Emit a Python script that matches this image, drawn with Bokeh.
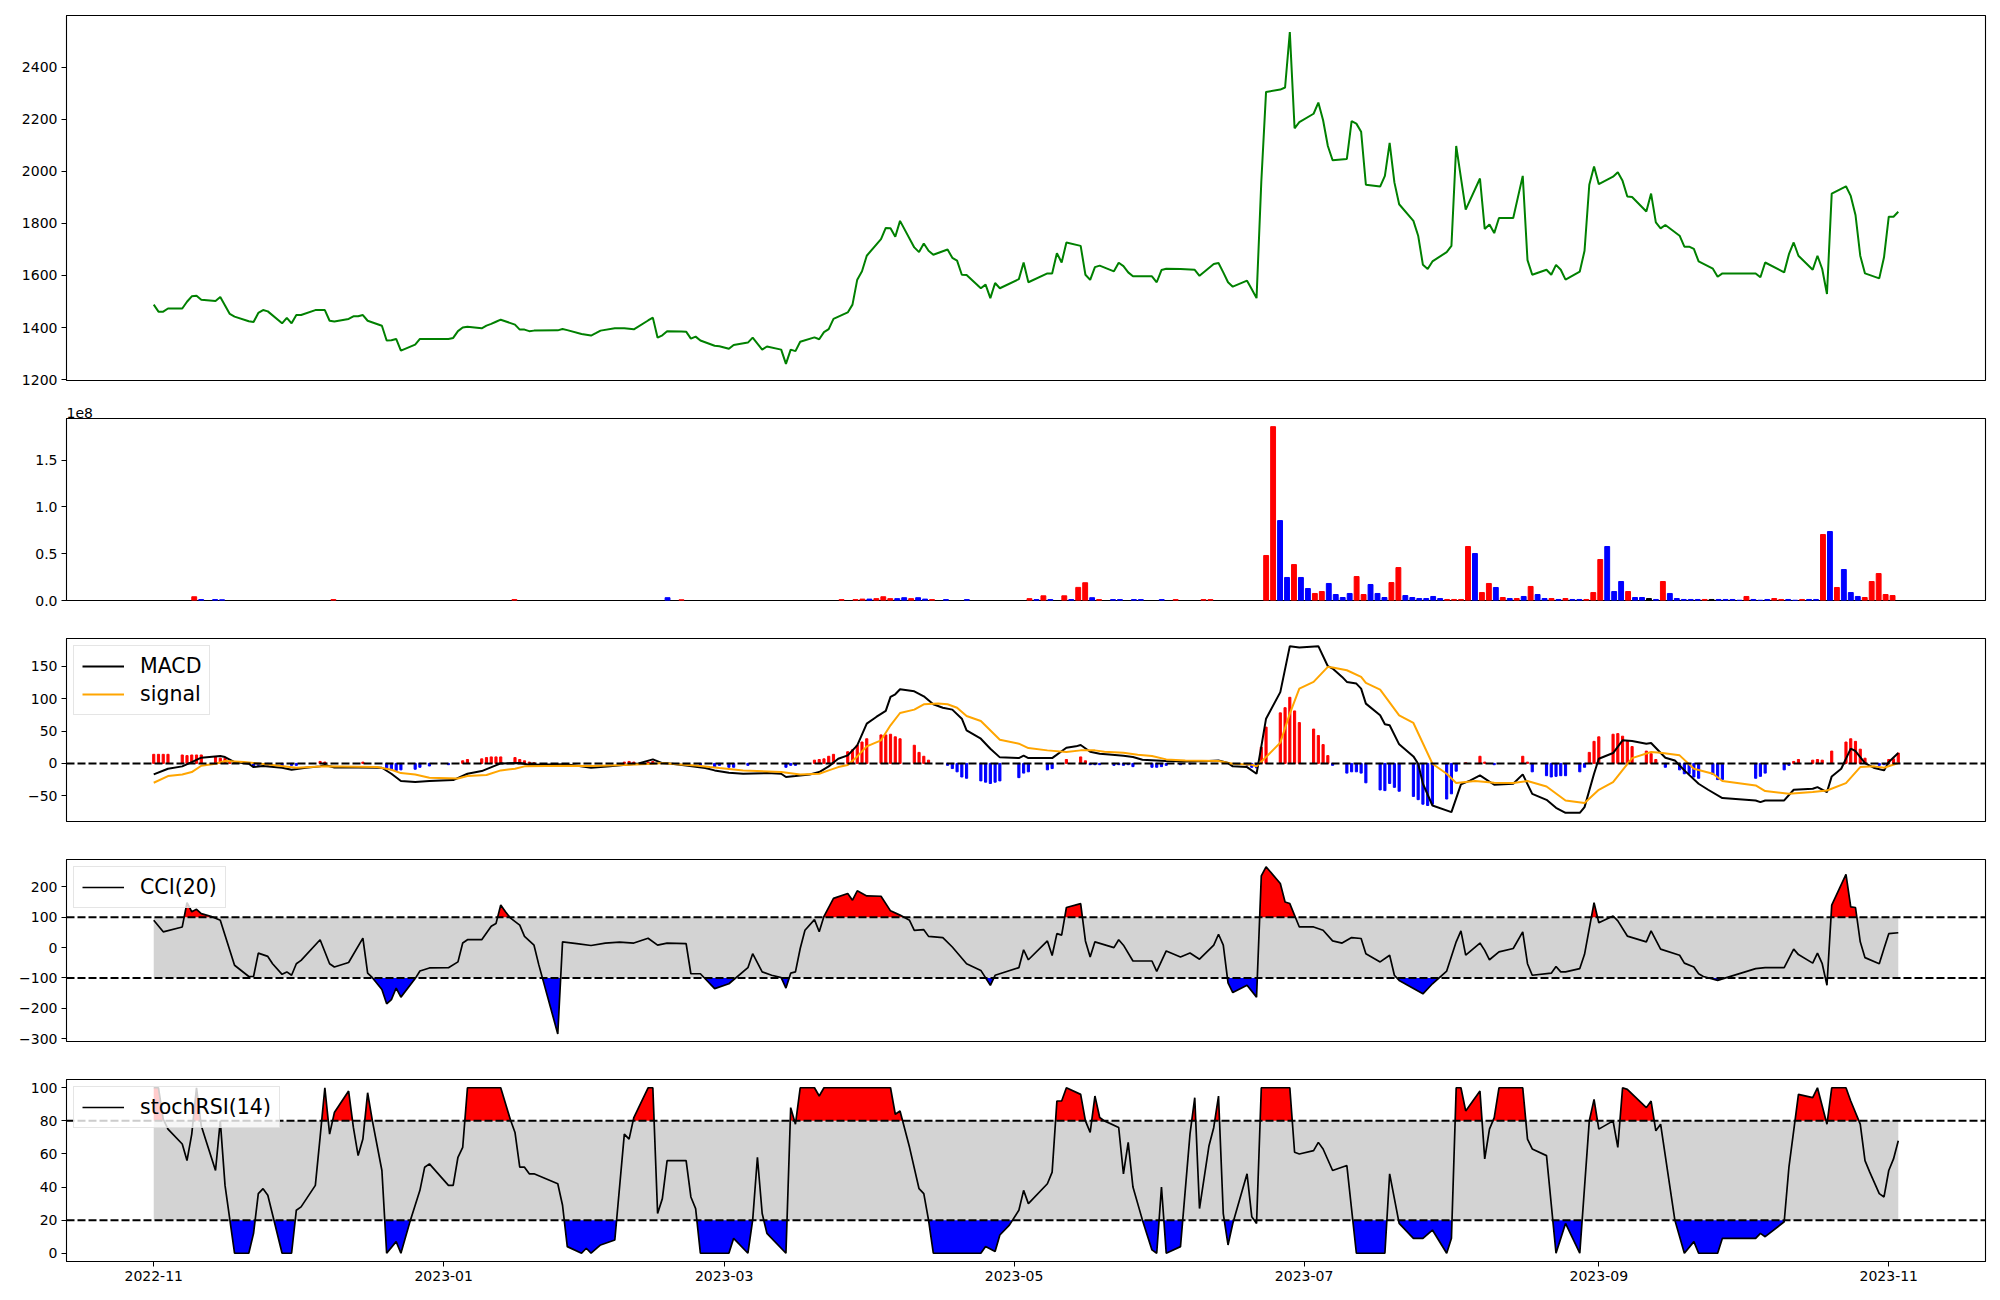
import numpy as np
import pandas as pd
from bokeh.plotting import figure
from bokeh.layouts import column
from bokeh.models import (Range1d, FixedTicker, DatetimeTickFormatter,
                          CustomJSTickFormatter, PrintfTickFormatter, Span)
from bokeh.embed import file_html
from bokeh.resources import INLINE

# ---------------- data ----------------
START = "2022-11-01"
END = "2023-11-03"
HOLIDAYS = ["2022-12-30", "2023-01-23", "2023-01-24", "2023-03-01", "2023-05-01",
            "2023-05-05", "2023-05-29", "2023-06-06", "2023-08-15", "2023-09-28",
            "2023-09-29", "2023-10-02", "2023-10-03", "2023-10-09"]

close_nov22 = [1488, 1461, 1461, 1473, 1473, 1499, 1520, 1522, 1507, 1502, 1517, 1485, 1452, 1442, 1424, 1421, 1456, 1467, 1462, 1416, 1437, 1416]
close_dec22 = [1448, 1448, 1467, 1467, 1467, 1426, 1423, 1433, 1443, 1443, 1448, 1426, 1407, 1350, 1351, 1356, 1311, 1334, 1356, 1356, 1356]
close_jan23 = [1356, 1360, 1386, 1400, 1403, 1397, 1407, 1414, 1422, 1430, 1411, 1392, 1392, 1386, 1388, 1389, 1394, 1390, 1375, 1372]
close_feb23 = [1369, 1378, 1388, 1397, 1397, 1397, 1395, 1393, 1427, 1438, 1361, 1370, 1386, 1385, 1384, 1357, 1365, 1350, 1330, 1328]
close_mar23 = [1318, 1333, 1342, 1361, 1338, 1315, 1327, 1315, 1260, 1315, 1309, 1345, 1362, 1355, 1382, 1394, 1433, 1458, 1488, 1584, 1616, 1676]
close_apr23 = [1740, 1783, 1782, 1749, 1810, 1708, 1690, 1723, 1695, 1680, 1700, 1668, 1657, 1603, 1602, 1551, 1565, 1513, 1571, 1551]
close_may23 = [1586, 1650, 1574, 1608, 1608, 1686, 1650, 1727, 1714, 1603, 1583, 1632, 1638, 1616, 1649, 1636, 1612, 1597, 1597, 1574]
close_jun23 = [1621, 1626, 1625, 1623, 1622, 1599, 1644, 1648, 1612, 1574, 1557, 1580, 1547, 1513, 1960, 2306, 2315, 2323, 2536, 2166, 2190]
close_jul23 = [2222, 2265, 2197, 2098, 2043, 2048, 2194, 2184, 2153, 1949, 1942, 1983, 2110, 1958, 1874, 1810, 1753, 1641, 1625, 1654, 1690]
close_aug23 = [1714, 2098, 1975, 1853, 1973, 1779, 1796, 1763, 1821, 1821, 1983, 1659, 1603, 1622, 1603, 1641, 1622, 1584, 1615, 1695, 1949, 2019]
close_sep23 = [1951, 1980, 1997, 1964, 1904, 1902, 1846, 1915, 1804, 1781, 1794, 1753, 1711, 1711, 1702, 1654, 1626, 1595, 1608]
close_oct23 = [1608, 1593, 1650, 1612, 1682, 1727, 1676, 1622, 1676, 1625, 1529, 1915, 1943, 1906, 1833, 1676, 1608, 1589, 1670]
close_nov23 = [1826, 1826, 1845]

# volume (millions of shares) by trading-day index, direction 1 up / -1 down / 0 flat
vol_idx = [5, 6, 8, 9, 25, 51, 73, 75, 98, 100, 101, 102, 103, 104, 105, 106, 107, 108, 109, 110,
           111, 113, 116, 125, 126, 127, 128, 130, 131, 132, 133, 134, 135, 137, 138, 140, 141,
           144, 146, 150, 151] + list(range(159, 250))
vol_m = [4, 1, 1, 0.8, 1, 1, 3, 0.8, 1, 1, 1.5, 1.5, 2, 4, 2, 2, 3, 2, 3, 1.5,
         1, 1, 1, 2, 1, 5, 1, 5, 1, 14, 19, 3, 1, 1, 1, 1, 1,
         1, 1, 1, 1,
         48.1, 185.8, 85.4, 24.6, 38.4, 24.6, 12.8, 7.5, 9.6, 18.2,
         6.4, 3.2, 7.5, 25.6, 6.4, 17.1, 7.5, 3.2, 19.2, 35.2,
         5.3, 3.2, 2.1, 2.1, 4.3, 2.1, 1.1, 1.1, 1.1, 57.7,
         50.2, 8.5, 18.2, 13.9, 3.2, 2.1, 2.1, 4.3, 15.0, 6.4,
         2.1, 2.1, 1.1, 2.1, 1.1, 1.1, 1.1, 8.5, 43.8, 57.7,
         9.6, 20.3, 9.6, 3.2, 3.2, 2.1, 1.1, 20.3, 7.5, 2.1,
         1.1, 1.1, 1.1, 1.1, 1.1, 1.1, 1.1, 1.1, 0.3, 4.3,
         1.1, 0.3, 1.1, 2.1, 1.1, 1.1, 0.3, 1.1, 1.1, 1.1,
         70.5, 73.7, 13.9, 33.1, 8.5, 4.3, 3.2, 20.3, 28.8, 6.4, 5.3]
vol_dir = [1, -1, -1, -1, 1, 1, -1, 1, 1, 1, 1, -1, 1, 1, 1, -1, -1, 1, -1, -1,
           1, -1, -1, 1, -1, 1, -1, 1, -1, 1, 1, -1, 1, -1, -1, -1, -1,
           -1, 1, 1, 1,
           1, 1, -1, -1, 1, -1, -1, 1, 1, -1,
           -1, -1, -1, 1, 1, -1, -1, -1, 1, 1,
           -1, -1, -1, -1, -1, -1, 1, 1, 1, 1,
           -1, 1, 1, -1, 1, -1, 1, -1, 1, -1,
           -1, 1, -1, 1, -1, -1, 1, 1, 1, -1,
           -1, -1, 1, -1, -1, 0, -1, 1, -1, -1,
           -1, -1, -1, 1, 0, -1, -1, -1, -1, 1,
           -1, -1, -1, 1, 1, -1, -1, 1, -1, -1,
           1, -1, 1, -1, -1, -1, 1, 1, 1, 1, 1]

# MACD / signal line vertices (days after 2022-11-01)
macd_day = [0, 3, 6, 8, 10, 14, 15, 17, 20, 21, 23, 27, 29, 32, 35, 36, 38, 43, 48, 50, 52, 55, 58, 63, 66, 69, 73, 77, 79, 87, 92, 96, 102, 105, 107, 109, 112, 116,
            118, 121, 124, 129, 132, 133, 135, 138, 140, 142, 144, 146, 148, 150, 152, 154, 155, 156, 157, 160, 162, 164, 166, 168, 170, 171, 174, 176, 178, 182, 183, 184, 189,
            192, 194, 195, 197, 199, 201, 204, 206, 208, 211, 213, 217, 222, 224, 226, 227, 230, 232, 233, 234, 237, 239, 241, 245, 247,
            248, 250, 251, 253, 254, 255, 258, 259, 260, 262, 265, 266, 267, 269, 273, 275, 277, 279, 282, 286, 288, 290, 293, 295, 297, 300, 301, 303, 304, 307, 309, 311, 314,
            315, 318, 320, 322, 325, 327, 330, 337, 338, 339, 343, 345, 349, 350, 352, 353, 355, 357, 358, 360, 362, 364, 365, 367]
macd_val = [-17, -8.2, -4.6, 2, 8.8, 11.3, 9.8, 2, -0.5, -5.7, -4, -6.7, -9.8, -6.7, -4.6, -2.6, -6.2, -6.2, -6.7, -16, -27.3, -28.9, -27.3, -25.8, -16, -11.9, 0, 0.5, -2.1, -1.5, -6.7, -4.6, 0, 6.2, 0.5, -0.5, -3.1, -7.2,
            -10.8, -14.4, -16, -15, -16, -21, -19.6, -17, -13.4, -4.6, 7.2, 12.4, 27.8, 61.3, 71.7, 81, 102.6, 106.7, 114.4, 111.3, 103.6, 91.2, 86, 83, 69, 51, 38.1, 22.7, 9.3, 8.2, 11.9, 8.2, 8.2,
            24.2, 26.3, 28.4, 18, 15, 13.9, 11.9, 9.8, 5.7, 4.6, 3.6, 3.1, 3.6, 4.6, 0.5, -4.6, -5.7, -16, 26, 69, 110, 181, 179, 181, 150,
            146.4, 133.5, 125.8, 123.2, 115.5, 92.3, 74.2, 60.3, 58.8, 29.4, 10.8, -0.5, -31.4, -65, -75.3, -32.5, -26.3, -18.6, -33, -31.4, -17, -47, -56.2, -68.6, -76.3, -76.3, -67.5, -16, 7.2, 16, 35.6, 34.5, 30.4,
            31.4, 8.8, 4.6, -10.8, -31.4, -40.7, -53.6, -57.2, -59.8, -57.2, -57.2, -40.7, -39.2, -36.6, -44.3, -20.1, -8.2, 22.7, 19.1, 0.5, -7.2, -10.8, 2, 16]
signal_day = [0, 3, 6, 8, 10, 13, 15, 19, 21, 25, 30, 36, 43, 47, 50, 52, 55, 58, 64, 66, 70, 73, 76, 78, 87, 92, 99, 105, 107, 110, 114, 117,
              119, 124, 132, 136, 140, 142, 144, 146, 148, 150, 153, 155, 157, 160, 162, 165, 167, 169, 171, 174, 178, 182, 184, 188, 192, 195, 198, 200, 204, 207, 210, 213, 217, 224, 227, 231, 232, 234, 237, 239, 241, 244, 247,
              248, 251, 254, 255, 258, 262, 265, 269, 272, 274, 278, 282, 286, 289, 293, 297, 301, 304, 307, 311, 315, 317, 321, 324, 328, 330, 337, 339, 344, 349, 352, 356, 359, 362, 364, 367]
signal_val = [-29.9, -19.6, -17, -13.4, -3.6, -0.5, 3.6, 2, 0.5, -2.6, -6.7, -4.6, -5.2, -5.7, -9.8, -15, -17, -22.2, -23.2, -19.6, -18, -10.8, -8.2, -4.6, -3.6, -4.1, -2.6, -0.5, 0.5, -1.5, -3.1, -5.7,
              -7.2, -10.8, -13.4, -17, -16, -10.8, -5.7, -2.6, 10.8, 26.3, 35.6, 58.8, 77.8, 83, 91.2, 92.3, 91.2, 86, 73.2, 65.5, 36.6, 30.4, 23.7, 20.1, 17.5, 20.1, 20.1, 18, 16.5, 13.4, 11.3, 6.2, 4.6, 3.6, -0.5, -2.1, -4.6, 9.8, 32, 76.8, 115.5, 125.8, 149,
              148, 143.8, 133.5, 124.2, 113.9, 74.2, 62.4, -0.5, -16, -30.4, -27.3, -29.9, -30.4, -27.3, -35.6, -57.2, -61.3, -40.7, -28.9, 8.2, 17.5, 16.5, 12.4, -8.2, -16, -27.3, -34, -42.8, -46.9, -44.3, -41.8, -30.4, -5.7, -4.6, -6.7, 0.5]
hist_day = [0, 1, 2, 3, 6, 7, 8, 9, 10, 13, 14, 15, 16, 17, 21, 22, 24, 27, 29, 30, 35, 36, 44,
            49, 50, 51, 52, 55, 56, 58, 62, 65, 66, 69, 70, 71, 72, 73, 76, 77, 78, 79, 80, 99, 100, 101, 104, 105,
            115, 118, 119, 121, 122, 125, 133, 134, 135, 139, 140, 141, 142, 143, 146, 147, 148, 149, 150, 153, 154, 155, 156, 157, 160, 161, 162, 163,
            167, 168, 169, 170, 171, 174, 175, 176, 177, 178, 182, 183, 184, 188, 189, 192, 195, 196, 197, 198, 199, 202, 203, 204, 205, 206, 210, 211, 212, 213, 216, 218,
            230, 231, 232, 233, 234, 237, 238, 239, 240, 241, 244, 245, 246, 247, 248,
            251, 252, 253, 254, 255, 258, 259, 260, 261, 262, 265, 266, 267, 268, 269, 272, 273, 274, 276, 279, 280, 282, 288, 289, 290, 293, 294, 295, 296, 297, 300, 301,
            302, 303, 304, 307, 308, 309, 310, 311, 314, 315, 316, 318, 321, 322, 323, 324, 325, 328, 329, 330, 337, 338, 339, 343, 344, 345, 346, 349, 350, 351, 353,
            356, 357, 358, 359, 360, 363, 364, 365, 366, 367]
hist_val = [14, 14, 14, 14, 13, 12, 13, 13, 13, 10, 8, 8, 3, 2, -4, -3, -3, -4, -3, -3, 3, 2, 2,
            -8, -10, -11, -10, -9, -6, -4, -2, 4, 6, 7, 9, 10, 10, 10, 9, 6, 4, 2, 1, 2, 3, 2, 2, 3,
            -3, -6, -3, -6, -6, -3, -6, -3, -3, 5, 6, 7, 11, 14, 18, 21, 28, 33, 38, 44, 44, 45, 41, 38, 28, 17, 11, 5,
            -3, -8, -13, -21, -23, -27, -29, -31, -29, -27, -22, -15, -13, -10, -8, 6, 10, 4, -2, -2, -2, -3, -2, -3, -2, -5, -6, -6, -5, -3, -2, -1,
            -3, -6, -7, 25, 56, 78, 86, 102, 81, 63, 53, 43, 29, 12, -3,
            -15, -13, -13, -15, -30, -41, -42, -31, -37, -43, -51, -56, -63, -65, -63, -55, -47, -12, 1, 11, 2, -2, 11, 2, -13, -19, -21, -20, -19, -19, -13, -6,
            17, 34, 41, 45, 46, 42, 34, 26, 19, 15, 6, -6, -10, -16, -16, -21, -23, -17, -25, -25, -23, -20, -15, -10, -3, 3, 6, 5, 6, 5, 19,
            33, 38, 34, 22, 8, -3, -2, 6, 7, 16]

# CCI(20) vertices
cci_day = [0, 2, 6, 7, 8, 9, 10, 12, 14, 15, 17, 20, 21, 22, 24, 25, 27, 28, 29, 30, 31, 35, 37, 38, 41, 44, 45, 46, 48, 49, 50, 51, 52, 55, 56, 58, 62, 64, 65, 66, 69, 71, 72, 73, 74, 75, 77, 78, 80, 81, 85, 86, 89, 92, 95, 98, 101, 104, 106, 108, 112, 113, 115, 118, 121, 125, 126, 128, 130, 132, 133, 134, 135, 136, 137, 139, 140, 141, 143, 146, 147, 148, 150, 153, 155, 157, 159, 160, 162, 163, 166, 168, 171, 174, 176, 177, 182, 183, 184,
           188, 189, 190, 191, 192, 195, 196, 197, 198, 202, 203, 204, 206, 210, 211, 213, 216, 218, 220, 223, 224, 225, 226, 227, 230, 232, 233, 234, 237, 238, 239, 241, 244, 246, 248, 250, 252, 254, 255, 258, 260, 261, 262, 267, 269, 272, 274, 275, 276, 279, 280, 281, 283, 286, 288, 289, 290, 294, 295, 296, 297, 300, 301, 303, 304, 307, 308, 310, 314, 315, 317, 321, 322, 324, 325, 326, 329, 337, 339, 343, 345, 346, 349, 350, 351, 352, 353, 356, 357, 358, 359, 360, 363, 364, 365, 367]
cci_val = [90, 52, 68, 148, 118, 126, 112, 103, 90, 41, -58, -95, -95, -18, -29, -53, -88, -80, -91, -53, -42, 26, -53, -64, -49, 31, -84, -99, -138, -185, -171, -133, -163, -102, -77, -67, -66, -47, 15, 26, 26, 70, 79, 140, 118, 98, 74, 37, 8, -56, -284, 19, 13, 7, 15, 18, 15, 31, 8, 15, 13, -86, -86, -135, -119, -66, -20, -80, -91, -99, -133, -84, -80, -3, 57, 92, 52, 103, 162, 178, 156, 187, 170, 169, 121, 107, 90, 57, 59, 37, 33, 2, -53, -75, -124, -91, -66, -7, -40,
           22, -26, 46, 41, 132, 145, 22, -31, 19, 0, 26, 8, -44, -44, -78, -11, -31, -18, -38, 8, 44, 8, -116, -148, -124, -163, 236, 266, 211, 150, 145, 68, 68, 57, 22, 15, 33, 30, -20, -47, -25, -91, -108, -152, -119, -77, 19, 55, -25, 15, -9, -40, -14, -3, 52, -53, -91, -84, -62, -80, -80, -69, -22, 148, 82, 104, 88, 38, 19, 55, -5, -25, -51, -64, -86, -95, -108, -69, -66, -66, -5, -23, -51, -18, -53, -124, 140, 241, 134, 132, 19, -33, -53, -3, 46, 49]

# stochRSI(14) vertices
stoch_day = [0, 1, 2, 3, 6, 7, 8, 9, 10, 11, 13, 14, 15, 17, 20, 21, 22, 23, 24, 27, 29, 30, 31, 34, 35, 36, 37, 38, 41, 42, 43, 44, 45, 46, 48, 49, 51, 52, 54, 56, 57, 58, 62, 63, 64, 65, 66, 73, 75, 76, 77, 78, 79, 80, 85, 86, 87, 90, 91, 92, 94, 97, 99, 100, 101, 104, 105, 106, 107, 108, 112, 113, 114, 115, 121, 122, 125, 126, 127, 128, 129, 133, 134, 135, 136, 139, 140, 141, 155, 156, 157, 159, 161, 162, 163, 164, 174, 175, 177, 178, 180, 182, 183, 184,
             188, 189, 190, 191, 192, 195, 196, 197, 198, 199, 200, 203, 204, 205, 206, 208, 210, 211, 212, 213, 216, 218, 219, 220, 222, 223, 224, 225, 226, 227, 230, 231, 232, 233, 239, 240, 241, 244, 245, 246, 248, 251, 253, 259, 260, 262, 265, 267, 269, 272, 273, 274, 275, 276, 279, 280, 281, 282, 283, 288, 289, 290, 293, 295, 297, 300, 302, 303, 304, 307, 308, 309, 310, 314, 315, 316, 317, 320, 322, 324, 325, 329, 330, 337, 338, 339, 343, 344, 346, 349, 350, 352, 353, 356, 357, 359, 360, 361, 363, 364, 365, 366, 367]
stoch_val = [100, 100, 81, 75, 66, 56, 72, 100, 77, 68, 50, 80, 41, 0, 0, 12, 36, 39, 35, 0, 0, 26, 28, 41, 70, 100, 72, 85, 98, 76, 59, 69, 97, 80, 50, 0, 7, 0, 20, 38, 52, 54, 41, 41, 58, 64, 100, 100, 81, 73, 52, 52, 48, 48, 42, 29, 4, 0, 3, 0, 5, 8, 72, 69, 82, 100, 100, 24, 33, 56, 56, 34, 27, 0, 0, 9, 0, 20, 58, 24, 12, 0, 88, 78, 100, 100, 95, 100, 100, 84, 86, 64, 39, 36, 20, 0, 0, 4, 1, 11, 17, 26, 38, 30,
             42, 49, 92, 92, 100, 96, 80, 73, 95, 82, 80, 76, 48, 67, 40, 20, 2, 0, 40, 0, 4, 72, 94, 27, 65, 76, 95, 24, 5, 18, 48, 22, 18, 100, 100, 61, 60, 62, 67, 63, 50, 53, 0, 0, 48, 18, 9, 9, 14, 0, 9, 100, 100, 86, 98, 57, 75, 82, 100, 100, 69, 63, 59, 0, 18, 0, 80, 93, 75, 80, 64, 100, 99, 88, 92, 74, 78, 20, 0, 7, 0, 0, 9, 9, 12, 10, 19, 52, 96, 94, 100, 78, 100, 100, 92, 78, 56, 49, 36, 34, 50, 57, 68]

PRICE_TICKS = [1200, 1400, 1600, 1800, 2000, 2200, 2400]
VOL_TICKS = [0.0, 0.5, 1.0, 1.5]
MACD_TICKS = [-50, 0, 50, 100, 150]
CCI_TICKS = [-300, -200, -100, 0, 100, 200]
STOCH_TICKS = [0, 20, 40, 60, 80, 100]
CCI_LEVELS = (-100, 100)
STOCH_LEVELS = (20, 80)
DATE_TICKS = ["2022-11-01", "2023-01-01", "2023-03-01", "2023-05-01", "2023-07-01", "2023-09-01", "2023-11-01"]

# ---------------- helpers ----------------
FONT = "DejaVu Sans"
DAY_MS = 86400000.0
T0_MS = pd.Timestamp(START).value / 1e6


def day_ms(days):
    return T0_MS + np.asarray(days, dtype=float) * DAY_MS


trading_days = pd.bdate_range(START, END).difference(pd.DatetimeIndex(HOLIDAYS))
trade_ms = np.array([d.value / 1e6 for d in trading_days])
close = (close_nov22 + close_dec22 + close_jan23 + close_feb23 + close_mar23 + close_apr23 +
         close_may23 + close_jun23 + close_jul23 + close_aug23 + close_sep23 + close_oct23 + close_nov23)
n = min(len(trade_ms), len(close))
trade_ms = trade_ms[:n]
close = np.array(close[:n], dtype=float)

span_days = (trade_ms[-1] - trade_ms[0]) / DAY_MS
x_range = Range1d(trade_ms[0] - 0.05 * span_days * DAY_MS, trade_ms[-1] + 0.05 * span_days * DAY_MS)


def with_crossings(x, y, thr):
    xs, ys = [x[0]], [y[0]]
    for i in range(1, len(x)):
        y0, y1 = y[i - 1], y[i]
        if (y0 - thr) * (y1 - thr) < 0:
            t = (thr - y0) / (y1 - y0)
            xs.append(x[i - 1] + t * (x[i] - x[i - 1]))
            ys.append(thr)
        xs.append(x[i])
        ys.append(y[i])
    return np.array(xs), np.array(ys, dtype=float)


def minus_fmt():
    return CustomJSTickFormatter(code="return (tick < 0 ? '\u2212' : '') + Math.abs(tick).toString();")


def style(p, yticks, fmt=None):
    p.outline_line_color = "black"
    p.outline_line_width = 1.1
    p.outline_line_alpha = 1.0
    p.xgrid.visible = False
    p.ygrid.visible = False
    p.background_fill_color = "white"
    p.border_fill_color = "white"
    for ax in p.yaxis:
        ax.ticker = FixedTicker(ticks=yticks)
        ax.minor_tick_line_color = None
        ax.major_tick_in = 0
        ax.major_tick_out = 5
        ax.axis_line_color = "black"
        ax.major_tick_line_color = "black"
        ax.major_label_text_font = FONT
        ax.major_label_text_font_size = "14px"
        ax.major_label_text_color = "black"
        ax.major_label_standoff = 4
        if fmt is not None:
            ax.formatter = fmt


def style_legend(p):
    lg = p.legend[0]
    lg.location = "top_left"
    lg.margin = 7
    lg.padding = 8
    lg.spacing = 4
    lg.label_text_font = FONT
    lg.label_text_font_size = "20.5px"
    lg.label_text_color = "black"
    lg.label_height = 22
    lg.glyph_height = 22
    lg.glyph_width = 42
    lg.label_standoff = 16
    lg.border_line_color = "#cccccc"
    lg.border_line_width = 1
    lg.background_fill_alpha = 0.8


def hline(p, lvl):
    p.add_layout(Span(location=lvl, dimension="width", line_color="black",
                      line_dash="8 3", line_width=2))


common = dict(output_backend="svg", toolbar_location=None, frame_width=1919,
              min_border_left=66, min_border_right=7)

# ---------------- price ----------------
p1 = figure(frame_height=365, min_border_top=15, min_border_bottom=19, x_range=x_range,
            x_axis_type="datetime", x_axis_location=None, title=None,
            y_range=Range1d(1196.2, 2599.8), **common)
p1.line(trade_ms, close, line_color="green", line_width=2)
style(p1, PRICE_TICKS)

# ---------------- volume ----------------
vol_x = np.array(vol_idx, dtype=float)
vol_top = np.array(vol_m, dtype=float) / 100.0
vol_col = ["red" if d > 0 else ("blue" if d < 0 else "black") for d in vol_dir]
p2 = figure(frame_height=182, min_border_top=19, min_border_bottom=19,
            x_range=Range1d(-0.05 * (n - 1) - 0.4 - 0.5, 1.05 * (n - 1) + 0.4 + 0.5),
            x_axis_location=None, title="1e8",
            y_range=Range1d(0, 1.945), **common)
p2.title.text_font = FONT
p2.title.text_font_size = "14px"
p2.title.text_font_style = "normal"
p2.title.text_color = "black"
p2.title.align = "left"
p2.title.standoff = 2
p2.vbar(x=vol_x, top=vol_top, width=0.7, color=vol_col)
style(p2, VOL_TICKS, PrintfTickFormatter(format="%.1f"))

# ---------------- MACD ----------------
p3 = figure(frame_height=183, min_border_top=19, min_border_bottom=19, x_range=x_range,
            x_axis_type="datetime", x_axis_location=None, title=None,
            y_range=Range1d(-89.7, 192.8), **common)
hv = np.array(hist_val, dtype=float)
p3.vbar(x=day_ms(hist_day), top=hv, width=0.45 * DAY_MS,
        color=["red" if v >= 0 else "blue" for v in hv])
p3.line(day_ms(macd_day), macd_val, line_color="black", line_width=2, legend_label="MACD")
p3.line(day_ms(signal_day), signal_val, line_color="orange", line_width=2, legend_label="signal")
hline(p3, 0)
style(p3, MACD_TICKS, minus_fmt())
style_legend(p3)

# ---------------- CCI ----------------
p4 = figure(frame_height=182, min_border_top=19, min_border_bottom=19, x_range=x_range,
            x_axis_type="datetime", x_axis_location=None, title=None,
            y_range=Range1d(-309, 290), **common)
p4.varea(x=[trade_ms[0], trade_ms[-1]], y1=[CCI_LEVELS[0]] * 2, y2=[CCI_LEVELS[1]] * 2,
         color="lightgray")
cx = day_ms(cci_day)
cy = np.array(cci_val, dtype=float)
xs, ys = with_crossings(cx, cy, CCI_LEVELS[1])
p4.varea(x=xs, y1=np.full(len(xs), CCI_LEVELS[1]), y2=np.maximum(ys, CCI_LEVELS[1]), color="red")
xs, ys = with_crossings(cx, cy, CCI_LEVELS[0])
p4.varea(x=xs, y1=np.full(len(xs), CCI_LEVELS[0]), y2=np.minimum(ys, CCI_LEVELS[0]), color="blue")
for lvl in CCI_LEVELS:
    hline(p4, lvl)
p4.line(cx, cy, line_color="black", line_width=1.7, legend_label="CCI(20)")
style(p4, CCI_TICKS, minus_fmt())
style_legend(p4)

# ---------------- stochRSI ----------------
p5 = figure(frame_height=182, min_border_top=19, min_border_bottom=30, x_range=x_range,
            x_axis_type="datetime", title=None,
            y_range=Range1d(-5, 105), **common)
p5.varea(x=[trade_ms[0], trade_ms[-1]], y1=[STOCH_LEVELS[0]] * 2, y2=[STOCH_LEVELS[1]] * 2,
         color="lightgray")
sx = day_ms(stoch_day)
sy = np.array(stoch_val, dtype=float)
xs, ys = with_crossings(sx, sy, STOCH_LEVELS[1])
p5.varea(x=xs, y1=np.full(len(xs), STOCH_LEVELS[1]), y2=np.maximum(ys, STOCH_LEVELS[1]), color="red")
xs, ys = with_crossings(sx, sy, STOCH_LEVELS[0])
p5.varea(x=xs, y1=np.full(len(xs), STOCH_LEVELS[0]), y2=np.minimum(ys, STOCH_LEVELS[0]), color="blue")
for lvl in STOCH_LEVELS:
    hline(p5, lvl)
p5.line(sx, sy, line_color="black", line_width=1.7, legend_label="stochRSI(14)")
style(p5, STOCH_TICKS)
style_legend(p5)

fmt = "%Y-%m"
ax = p5.xaxis[0]
ax.ticker = FixedTicker(ticks=[pd.Timestamp(d).value / 1e6 for d in DATE_TICKS])
ax.formatter = DatetimeTickFormatter(microseconds=fmt, milliseconds=fmt, seconds=fmt, minsec=fmt,
                                     minutes=fmt, hourmin=fmt, hours=fmt, days=fmt,
                                     months=fmt, years=fmt)
ax.minor_tick_line_color = None
ax.major_tick_in = 0
ax.major_tick_out = 5
ax.axis_line_color = "black"
ax.major_tick_line_color = "black"
ax.major_label_text_font = FONT
ax.major_label_text_font_size = "14px"
ax.major_label_text_color = "black"
ax.major_label_standoff = 4

layout = column(p1, p2, p3, p4, p5, spacing=0)
open("out.html", "w").write(file_html(layout, INLINE))
